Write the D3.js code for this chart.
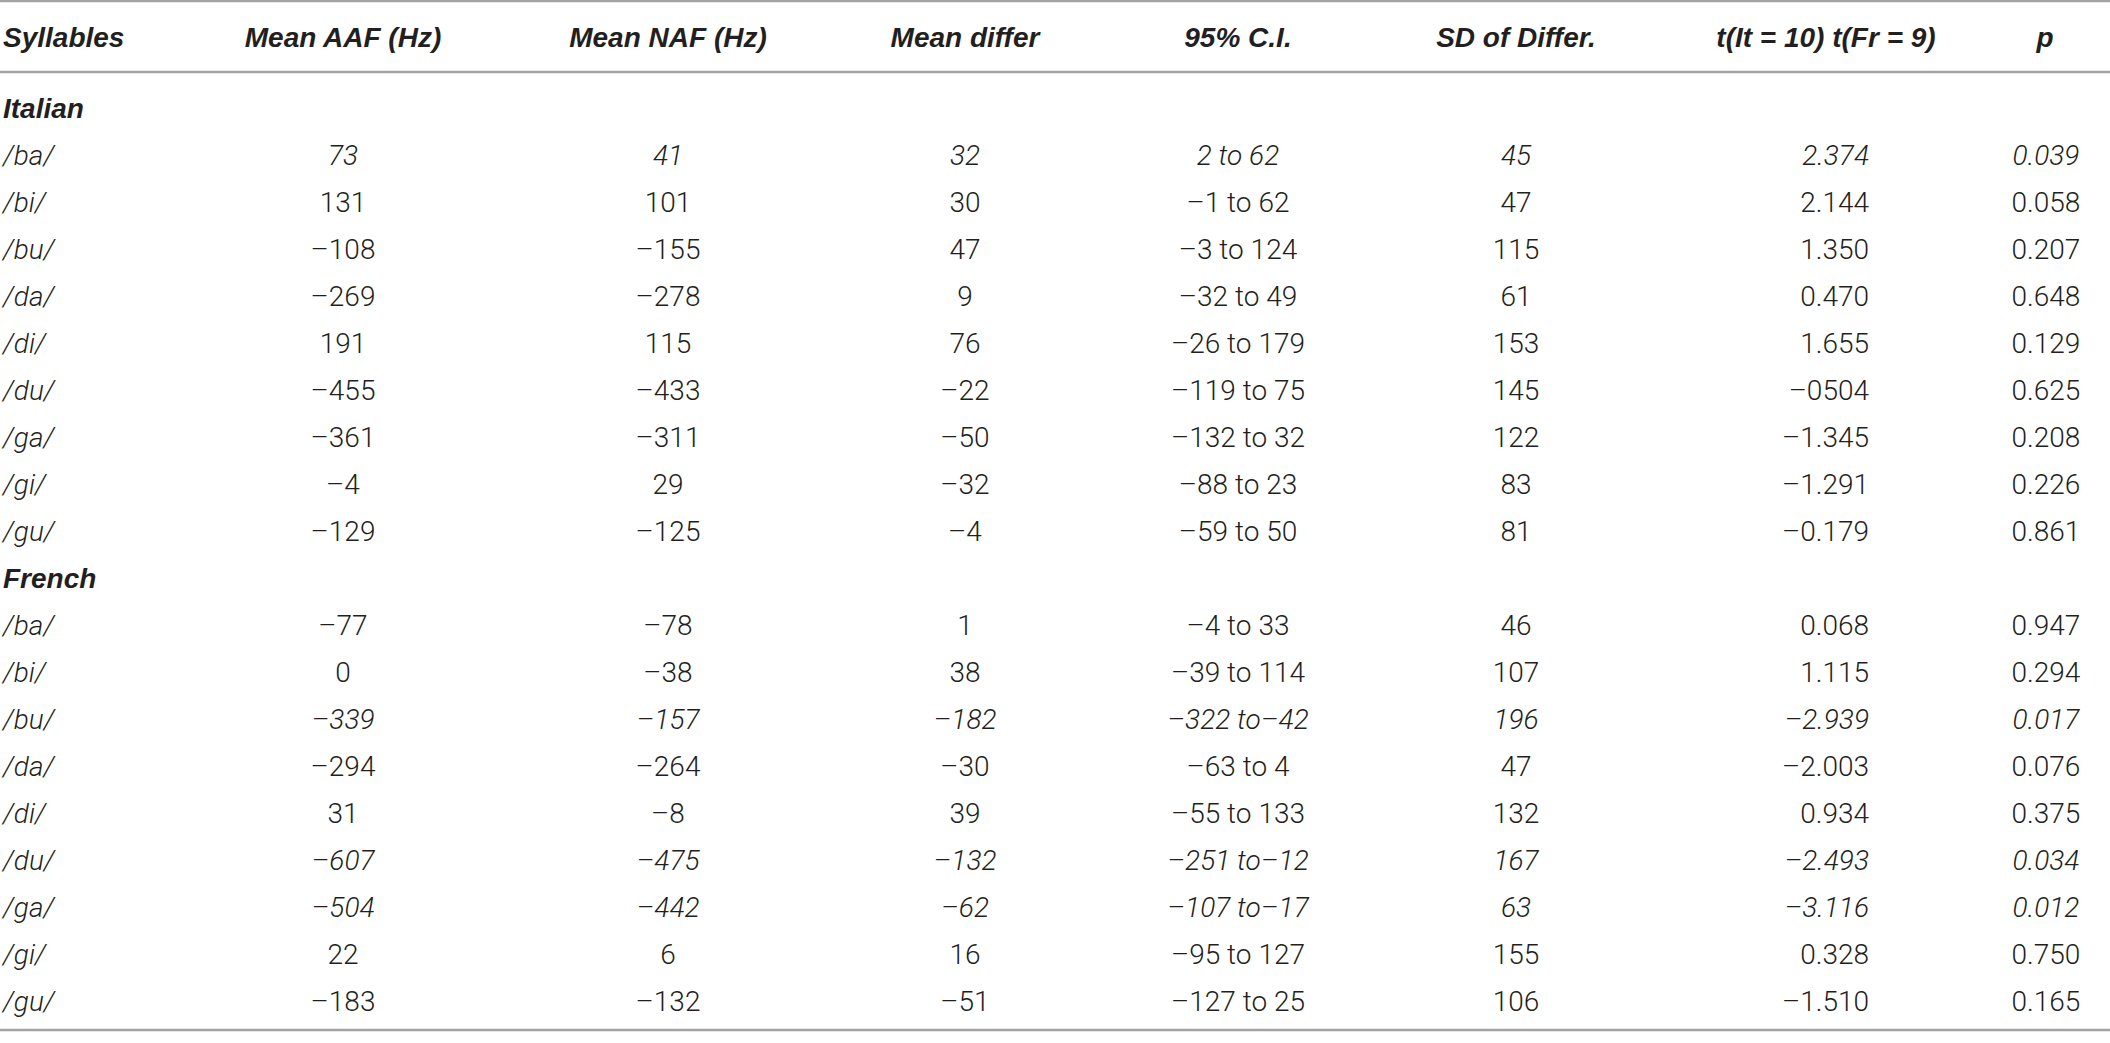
<!DOCTYPE html>
<html>
<head>
<meta charset="utf-8">
<script src="https://cdn.jsdelivr.net/npm/d3@7"></script>
<style>
  body { margin: 0; background: #ffffff; }
  svg { display: block; }
</style>
</head>
<body>
<div id="table"></div>
<script>
// Valors de la taula (llegits de la imatge)
const groups = ['Italian', 'French'];
const syllables = ['/ba/', '/bi/', '/bu/', '/da/', '/di/', '/du/', '/ga/', '/gi/', '/gu/'];
const headers = ['Syllables', 'Mean AAF (Hz)', 'Mean NAF (Hz)', 'Mean differ', '95% C.I.', 'SD of Differ.', 't(It = 10) t(Fr = 9)', 'p'];

const meanAAF = [73, 131, -108, -269, 191, -455, -361, -4, -129,
                 -77, 0, -339, -294, 31, -607, -504, 22, -183];
const meanNAF = [41, 101, -155, -278, 115, -433, -311, 29, -125,
                 -78, -38, -157, -264, -8, -475, -442, 6, -132];
const meanDiffer = [32, 30, 47, 9, 76, -22, -50, -32, -4,
                    1, 38, -182, -30, 39, -132, -62, 16, -51];
const ciLow = [2, -1, -3, -32, -26, -119, -132, -88, -59,
               -4, -39, -322, -63, -55, -251, -107, -95, -127];
const ciHigh = [62, 62, 124, 49, 179, 75, 32, 23, 50,
                33, 114, -42, 4, 133, -12, -17, 127, 25];
const sdDiffer = [45, 47, 115, 61, 153, 145, 122, 83, 81,
                  46, 107, 196, 47, 132, 167, 63, 155, 106];
const tValues = ['2.374', '2.144', '1.350', '0.470', '1.655', '–0504', '–1.345', '–1.291', '–0.179',
                 '0.068', '1.115', '–2.939', '–2.003', '0.934', '–2.493', '–3.116', '0.328', '–1.510'];
const pValues = [0.039, 0.058, 0.207, 0.648, 0.129, 0.625, 0.208, 0.226, 0.861,
                 0.947, 0.294, 0.017, 0.076, 0.375, 0.034, 0.012, 0.750, 0.165];

const width = 2110;
const height = 1043;

const svg = d3.select('#table').append('svg')
    .attr('width', width)
    .attr('height', height);

const minus = s => String(s).replace('-', '–');
const fmtP = d3.format('.3f');

// Columnes: posició i alineació
const colKeys = ['syll', 'aaf', 'naf', 'diff', 'ci', 'sd', 't', 'p'];
const colX = d3.scaleOrdinal().domain(colKeys).range([3, 343, 668, 965, 1238, 1516, 1869, 2046]);
const colAnchor = d3.scaleOrdinal().domain(colKeys)
    .range(['start', 'middle', 'middle', 'middle', 'middle', 'middle', 'end', 'middle']);
const headerX = d3.scaleOrdinal().domain(colKeys).range([3, 343, 668, 965, 1238, 1516, 1826, 2045]);

// Construir files: capçalera de grup + 9 síl·labes
const rows = [];
groups.forEach((g, gi) => {
    rows.push({ type: 'group', label: g });
    syllables.forEach((s, si) => {
        const i = gi * syllables.length + si;
        const hi = ciHigh[i];
        rows.push({
            type: 'data',
            italic: pValues[i] < 0.05,
            cells: {
                syll: s,
                aaf: minus(meanAAF[i]),
                naf: minus(meanNAF[i]),
                diff: minus(meanDiffer[i]),
                ci: minus(ciLow[i]) + (hi < 0 ? ' to' : ' to ') + minus(hi),
                sd: String(sdDiffer[i]),
                t: tValues[i],
                p: fmtP(pValues[i])
            }
        });
    });
});

const y = d3.scaleLinear().domain([0, rows.length - 1]).range([108, 1001]);

const textColor = '#231f20';
const headFont = '"Liberation Sans", Arial, sans-serif';
const bodyFont = 'Roboto, "Liberation Sans", sans-serif';

// Línies horitzontals
const rules = [1, 72, 1030];
svg.selectAll('line.rule')
    .data(rules)
    .enter().append('line')
    .attr('class', 'rule')
    .attr('x1', 0)
    .attr('x2', width)
    .attr('y1', d => d)
    .attr('y2', d => d)
    .attr('stroke', '#a3a3a3')
    .attr('stroke-width', 2.5);

// Capçalera
svg.selectAll('text.head')
    .data(colKeys)
    .enter().append('text')
    .attr('class', 'head')
    .attr('x', d => headerX(d))
    .attr('y', 37)
    .attr('dy', '0.35em')
    .attr('text-anchor', d => (d === 'syll' ? 'start' : 'middle'))
    .style('font-family', headFont)
    .style('font-size', '28px')
    .style('font-weight', 'bold')
    .style('font-style', 'italic')
    .style('fill', textColor)
    .text((d, i) => headers[i]);

const rowG = svg.selectAll('g.row')
    .data(rows)
    .enter().append('g')
    .attr('class', 'row')
    .attr('transform', (d, i) => `translate(0,${y(i)})`);

rowG.filter(d => d.type === 'group')
    .append('text')
    .attr('x', 3)
    .attr('dy', '0.35em')
    .style('font-family', headFont)
    .style('font-size', '28px')
    .style('font-weight', 'bold')
    .style('font-style', 'italic')
    .style('fill', textColor)
    .text(d => d.label);

rowG.filter(d => d.type === 'data')
    .selectAll('text')
    .data(d => colKeys.map(k => ({ key: k, value: d.cells[k], italic: d.italic || k === 'syll' })))
    .enter().append('text')
    .attr('x', d => colX(d.key))
    .attr('dy', '0.35em')
    .attr('text-anchor', d => colAnchor(d.key))
    .style('font-family', bodyFont)
    .style('font-size', '28px')
    .style('font-weight', 300)
    .style('font-style', d => (d.italic ? 'italic' : 'normal'))
    .style('fill', textColor)
    .text(d => d.value);
</script>
</body>
</html>
